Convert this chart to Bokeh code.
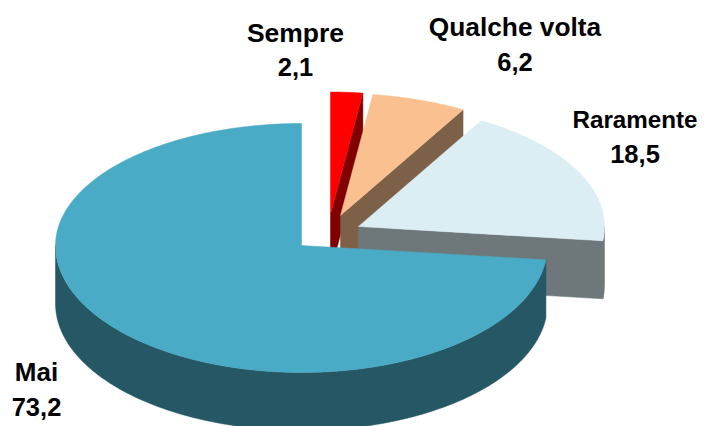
import numpy as np
from bokeh.plotting import figure
from bokeh.models import Range1d
from bokeh.core.properties import value
from bokeh.embed import file_html
from bokeh.resources import INLINE

categories = ["Sempre", "Qualche volta", "Raramente", "Mai"]
values = [2.1, 6.2, 18.5, 73.2]

top_colors = ["#FF0000", "#FAC090", "#DBEEF4", "#4AABC6"]
side_colors = ["#800000", "#7D6048", "#6E7779", "#265765"]
# layout: explosion apex of each slice, in page pixels
apex_x = [330, 340, 358, 301]
apex_y = [213.5, 215, 226, 245]
label_x = [295, 514.5, 634.5, 36]
label_y = [32, 26.5, 118.5, 371.5]
label_size = ["26.5px", "26.3px", "24.2px", "26px"]

A = 246.0
B_UP = 122.0
B_DOWN = 127.0
DEPTH = 58.0


def rim(cx, cy, t):
    c = np.cos(t)
    return cx + A * np.sin(t), cy - np.where(c > 0, B_UP, B_DOWN) * c


p = figure(width=712, height=426, output_backend="svg", toolbar_location=None,
           x_range=Range1d(0, 712), y_range=Range1d(426, 0), min_border=0,
           background_fill_color="white", border_fill_color="white")
p.axis.visible = False
p.grid.visible = False
p.outline_line_color = None

total = sum(values)
edges = np.concatenate([[0], np.cumsum(values)]) / total * 2 * np.pi

for i in range(len(values)):
    t0, t1 = edges[i], edges[i + 1]
    cx, cy = apex_x[i], apex_y[i]
    sc, tc = side_colors[i], top_colors[i]
    # cut face at the clockwise end of the slice (visible only up to the right-hand side)
    if t1 < np.pi:
        ex, ey = rim(cx, cy, t1)
        p.patch([cx, ex, ex, cx], [cy, ey, ey + DEPTH, cy + DEPTH],
                fill_color=sc, line_color=sc, line_width=0.5)
    # outer wall, the part facing the viewer
    lo, hi = max(t0, np.pi / 2), min(t1, 3 * np.pi / 2)
    if hi > lo:
        t = np.linspace(lo, hi, 160)
        x, y = rim(cx, cy, t)
        p.patch(np.r_[x, x[::-1]], np.r_[y, y[::-1] + DEPTH],
                fill_color=sc, line_color=sc, line_width=0.5)
    # top face
    t = np.linspace(t0, t1, 240)
    x, y = rim(cx, cy, t)
    p.patch(np.r_[cx, x], np.r_[cy, y], fill_color=tc, line_color=tc, line_width=0.5)

for i, cat in enumerate(categories):
    p.text([label_x[i]], [label_y[i]], text=[cat],
           text_font=value("Liberation Sans"), text_font_style="bold",
           text_font_size=label_size[i], text_align="center", text_baseline="middle",
           text_color="black")
    p.text([label_x[i]], [label_y[i] + 34.5], text=[f"{values[i]:.1f}".replace(".", ",")],
           text_font=value("Liberation Sans"), text_font_style="bold",
           text_font_size="25.5px", text_align="center", text_baseline="middle",
           text_color="black")

open("out.html", "w").write(file_html(p, INLINE))
